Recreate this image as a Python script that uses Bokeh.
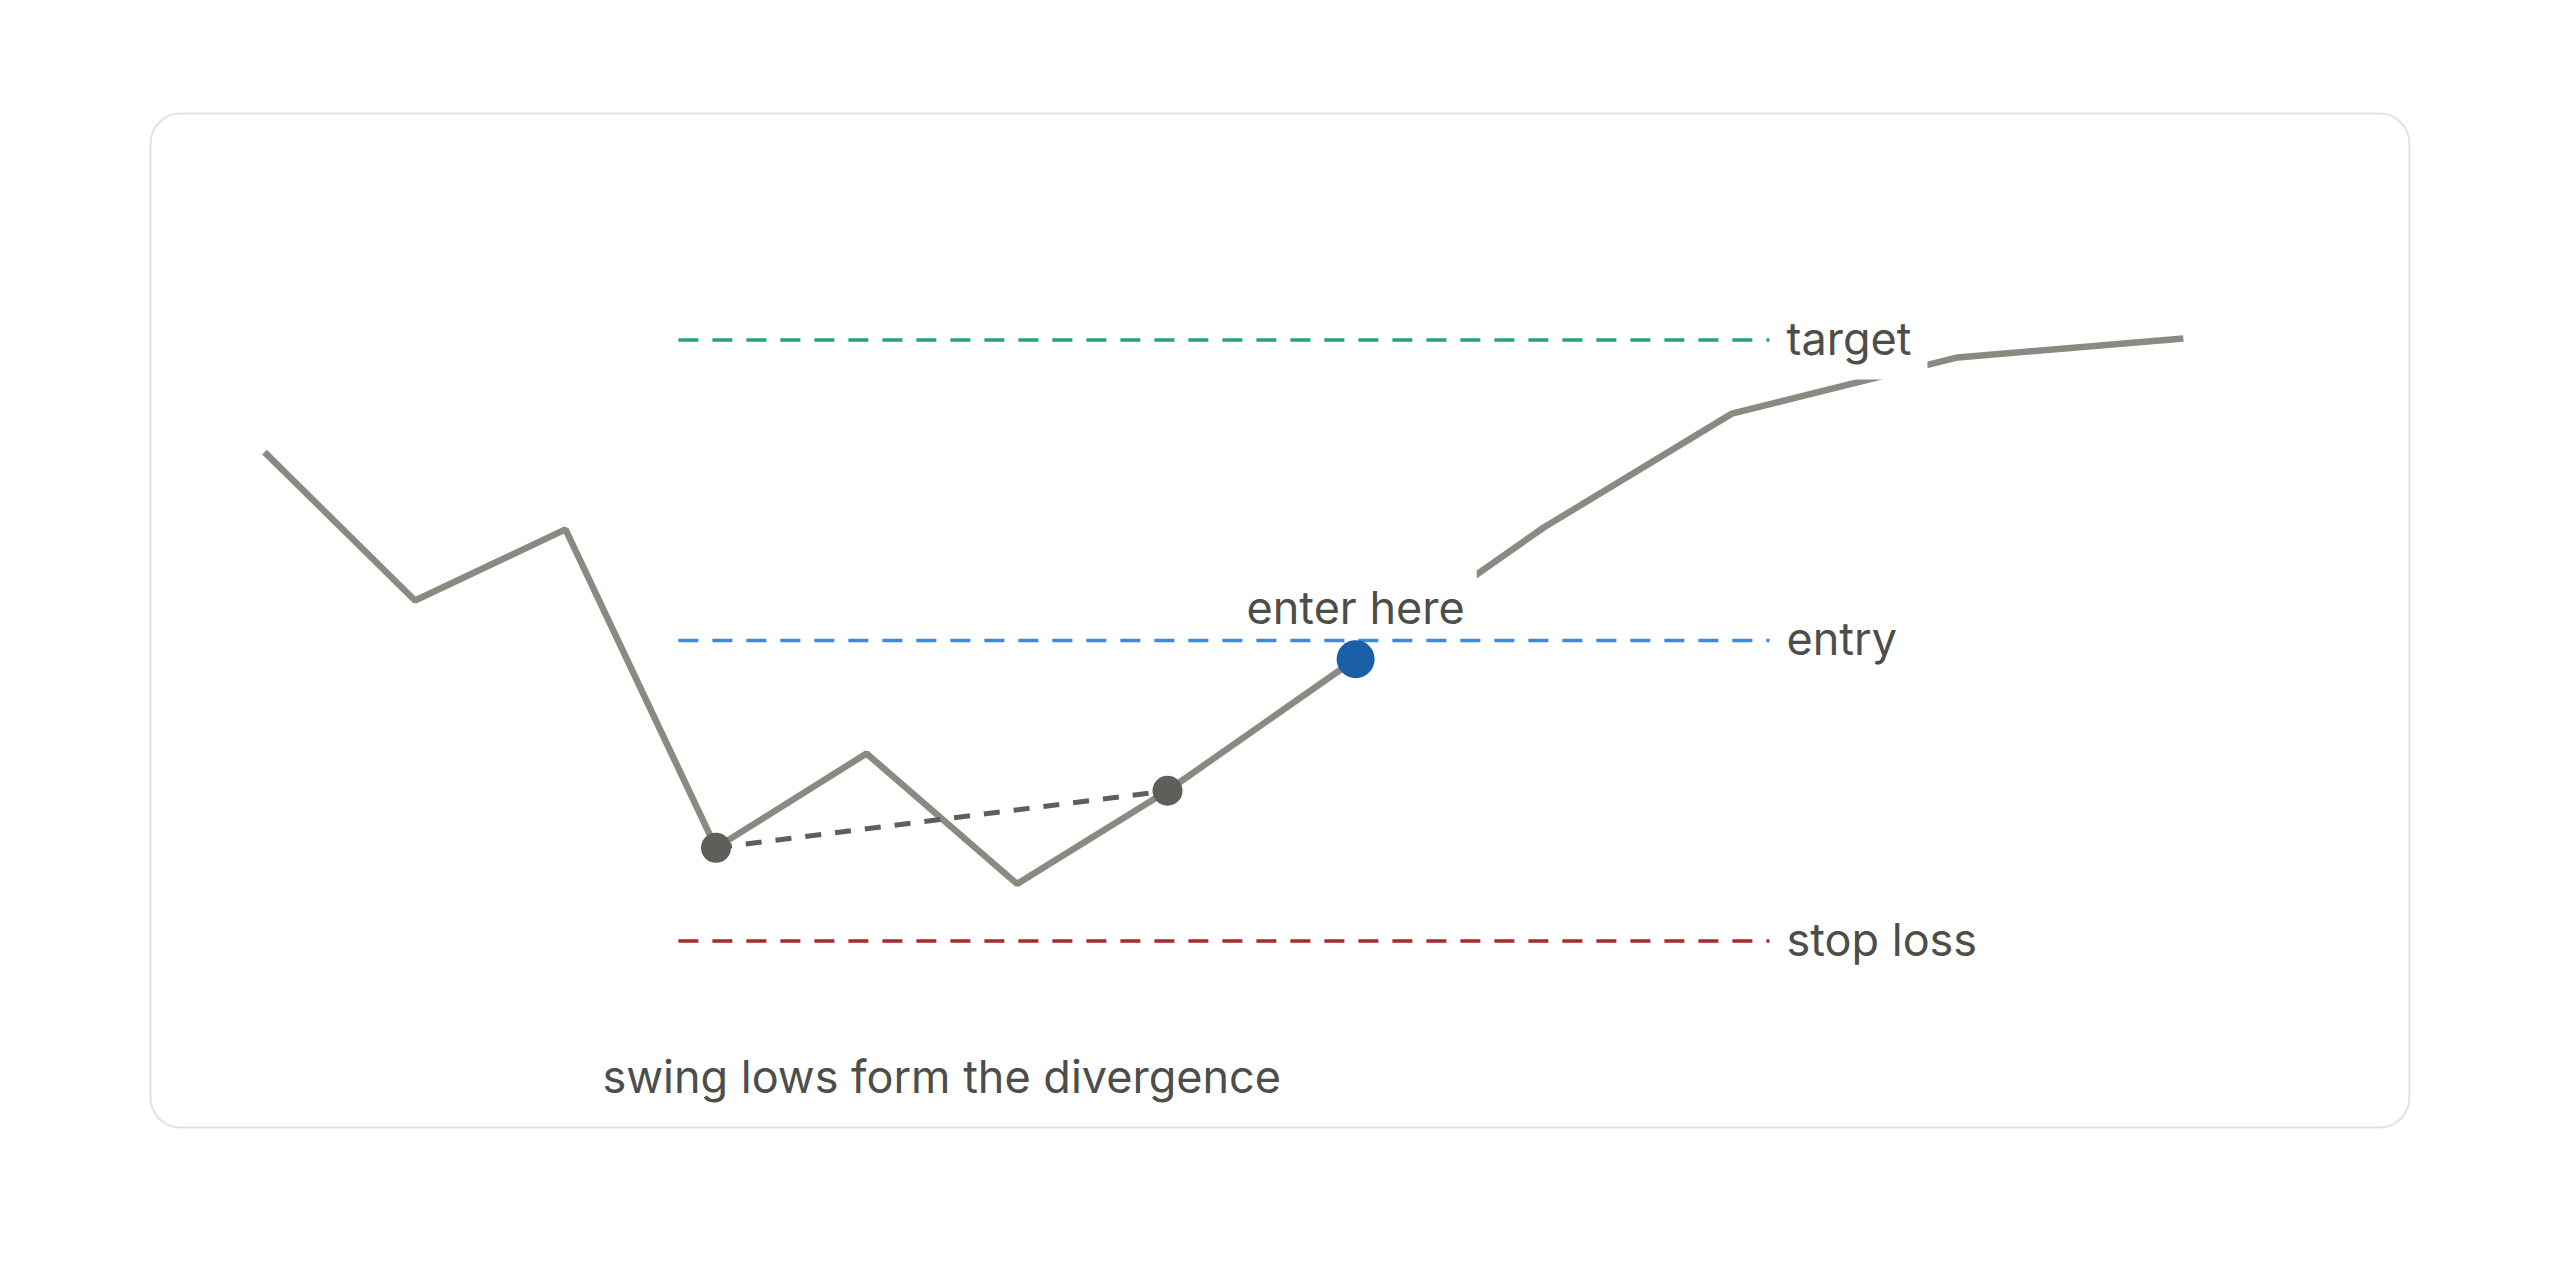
from bokeh.plotting import figure
from bokeh.models import Range1d, BoxAnnotation, ColumnDataSource
from bokeh.core.properties import value
from bokeh.embed import file_html
from bokeh.resources import INLINE

# ---- data -------------------------------------------------------------
price_x = [0, 1, 2, 3, 4, 5, 6, 8.5, 9.75, 11.25, 12.75]
price_y = [106.27, 101.33, 103.7, 93.1, 96.24, 91.9, 95.0, 103.76, 107.55, 109.42, 110.05]

swing_idx = [3, 6]                     # the two swing lows
entry_x = [7.25]
entry_y = [99.38]

level_names = ["target", "entry", "stop loss"]
level_values = [110, 100, 90]

entry_text = ["enter here"]
note_text = ["swing lows form the divergence"]

# ---- styles / layout --------------------------------------------------
W, H = 2544, 1264
FONT = value("Inter")
FS = "45px"
TEXT_COLOR = "#4d4d4a"
level_colors = ["#26a27a", "#3b8ae0", "#a52a2a"]
level_x0, level_x1 = 2.75, 10.0

p = figure(width=W, height=H, output_backend="svg", toolbar_location=None,
           x_axis_type=None, y_axis_type=None, title=None,
           x_range=Range1d(-1.7542, 15.1495), y_range=Range1d(79.235, 121.298),
           min_border=0, tools="")
p.outline_line_color = None
p.background_fill_color = "white"
p.border_fill_color = "white"

# card frame
card = BoxAnnotation(left=-0.7575, right=14.252, top=117.537, bottom=83.794,
                     fill_color=None, line_color="#e2e2e2", line_alpha=1.0,
                     line_width=2, border_radius=30)
p.add_layout(card)

# price line
p.line(price_x, price_y, line_color="#8a8a82", line_width=6.5)

# labels with white background (cover the price line); padding = (horizontal, vertical)
lvl_src = ColumnDataSource(dict(x=[level_x1] * len(level_values), y=level_values,
                                text=level_names))
p.text(x="x", y="y", text="text", source=lvl_src, text_font=FONT,
       text_font_size=FS, text_color=TEXT_COLOR, text_align="left",
       text_baseline="middle", x_offset=1, y_offset=-2,
       background_fill_color="white", padding=(16, 14))

p.text(x=entry_x, y=[level_values[1] + 1.1], text=entry_text, text_font=FONT,
       text_font_size=FS, text_color=TEXT_COLOR, text_align="center",
       text_baseline="middle", background_fill_color="white", padding=(12, 18))

sw_x = [price_x[i] for i in swing_idx]
sw_y = [price_y[i] for i in swing_idx]
p.text(x=[sum(sw_x) / 2], y=[level_values[2] - 4.5], text=note_text, text_font=FONT,
       text_font_size=FS, text_color=TEXT_COLOR, text_align="center",
       text_baseline="middle")

# level lines
for v, c in zip(level_values, level_colors):
    p.line([level_x0, level_x1], [v, v], line_color=c, line_width=3.7,
           line_dash="20 14")

# divergence line between swing lows
p.line(sw_x, sw_y, line_color="#5e5e5a", line_width=5, line_dash="16 14")
p.scatter(sw_x, sw_y, size=30, fill_color="#5e5e5a", line_color=None)

# entry point
p.scatter(entry_x, entry_y, size=38, fill_color="#1b5fa8", line_color=None)

open("out.html", "w").write(file_html(p, INLINE))
